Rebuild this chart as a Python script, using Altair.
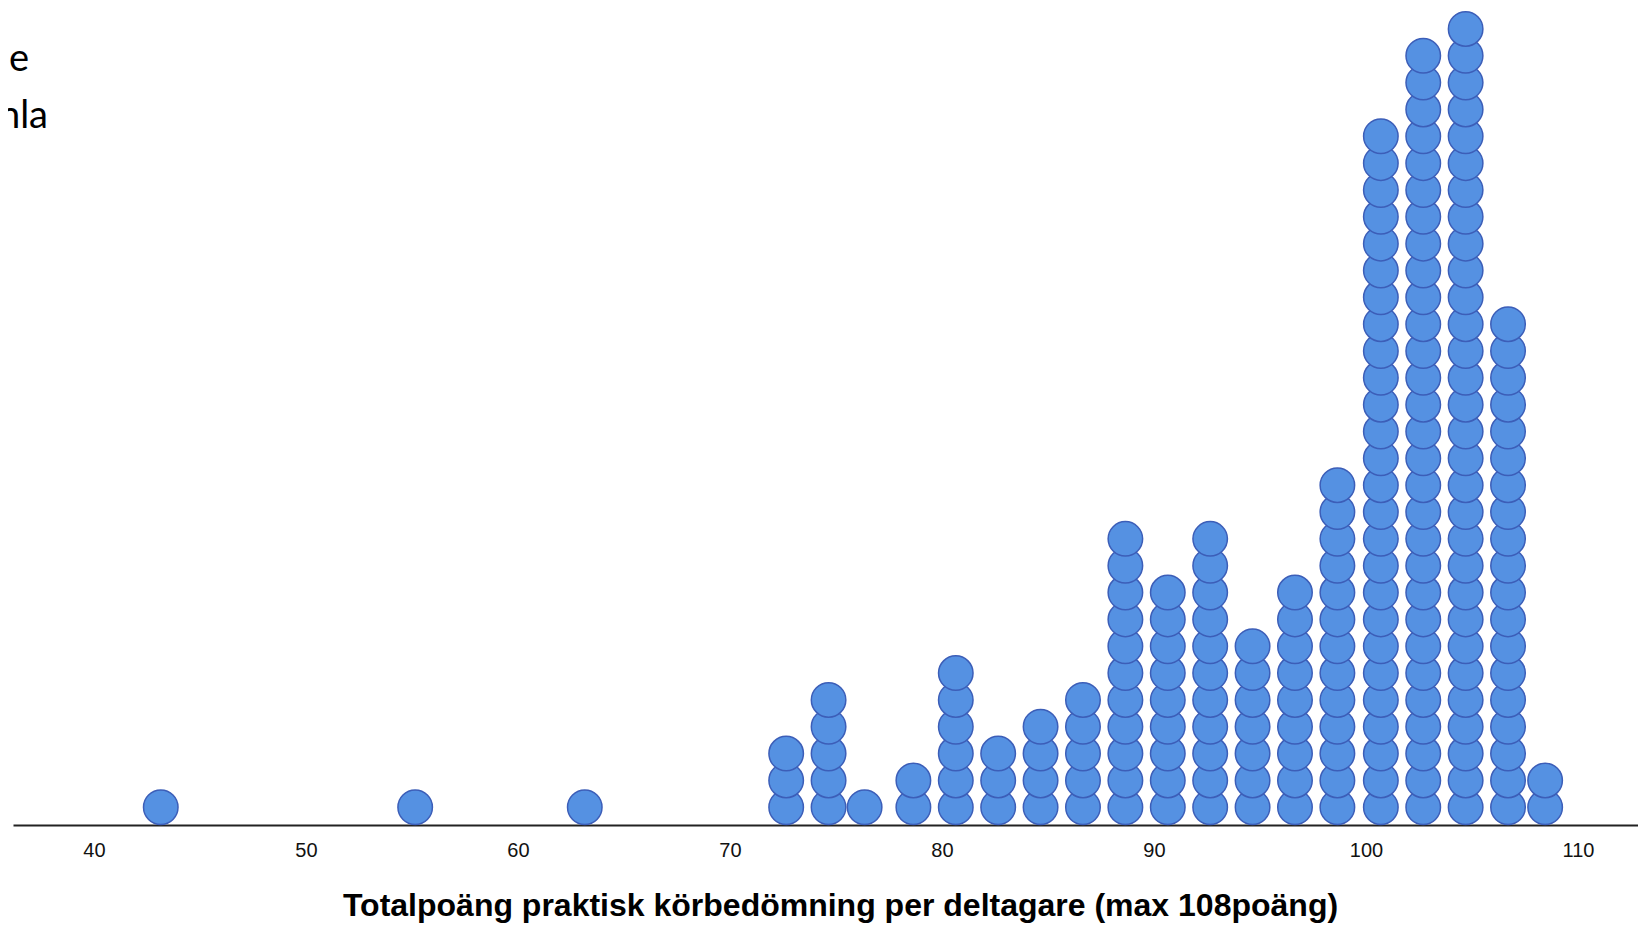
import altair as alt
import pandas as pd

# Dot positions (score bins) and number of participants stacked in each
scores = [43.15, 55.15, 63.15, 72.65, 74.65, 76.35, 78.65, 80.65, 82.65, 84.65,
          86.65, 88.65, 90.65, 92.65, 94.65, 96.65, 98.65, 100.7, 102.7, 104.7,
          106.7, 108.45]
counts = [1, 1, 1, 3, 5, 1, 2, 6, 3, 4,
          5, 11, 9, 11, 7, 9, 13, 26, 29, 30,
          19, 2]
tick_values = [40, 50, 60, 70, 80, 90, 100, 110]
x_title = "Totalpoäng praktisk körbedömning per deltagare (max 108poäng)"
side_text_1 = ["e"]
side_text_2 = ["nla"]

rows = []
for s, c in zip(scores, counts):
    for k in range(c):
        rows.append({"score": s, "stack": k})
df = pd.DataFrame(rows)

W, H = 1625, 817
FILL = "#5591E2"
STROKE = "#3C5EB8"

x_enc = alt.X(
    "score:Q",
    scale=alt.Scale(domain=[36.18, 112.83], nice=False, zero=False),
    axis=alt.Axis(
        values=tick_values,
        title=x_title,
        grid=False,
        ticks=False,
        tickSize=0,
        domainColor="#222222",
        domainWidth=2,
        labelFont="Liberation Sans",
        labelFontSize=20,
        labelColor="#111111",
        labelBaseline="alphabetic",
        labelPadding=31,
        labelFlush=False,
        labelOverlap=False,
        labelBound=False,
        titleFont="Liberation Sans",
        titleFontSize=32,
        titleFontWeight="bold",
        titleColor="#000000",
        titleX=827,
        titleY=90,
        titleAlign="center",
        titleBaseline="alphabetic",
    ),
)
y_enc = alt.Y(
    "stack:Q",
    scale=alt.Scale(domain=[-0.661, 29.78], nice=False, zero=False),
    axis=None,
)

dots = alt.Chart(df).mark_circle(
    size=1190, fill=FILL, stroke=STROKE, strokeWidth=1.5, opacity=1
).encode(x=x_enc, y=y_enc)

txt1 = alt.Chart(pd.DataFrame({"t": side_text_1})).mark_text(
    font="Lato", fontSize=38, align="right",
    baseline="alphabetic", color="#000000"
).encode(text="t:N", x=alt.value(16), y=alt.value(63))

txt2 = alt.Chart(pd.DataFrame({"t": side_text_2})).mark_text(
    font="Lato", fontSize=38, align="right",
    baseline="alphabetic", color="#000000"
).encode(text="t:N", x=alt.value(35), y=alt.value(120))

chart = alt.layer(dots, txt1, txt2).properties(
    width=W,
    height=H,
    padding={"left": 5, "top": 0, "right": 0, "bottom": 99},
    autosize=alt.AutoSizeParams(type="none"),
).configure_view(stroke=None)

chart.save("out.html", embed_options={"renderer": "svg", "actions": False})
